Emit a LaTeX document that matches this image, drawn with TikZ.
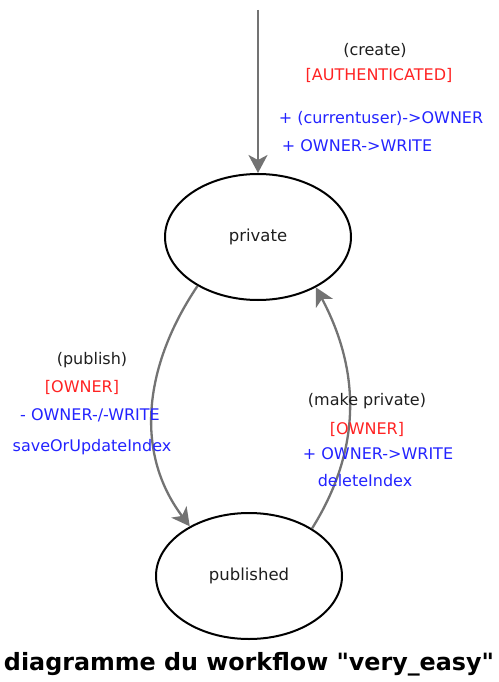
\documentclass[tikz,border=0pt]{standalone}
\usepackage{fontspec}
\usetikzlibrary{arrows.meta,shapes.geometric}
\newfontfamily\lbl{DejaVu Sans}
\newfontfamily\ttl{DejaVu Sans}
\definecolor{lblred}{RGB}{255,35,35}
\definecolor{lblblue}{RGB}{35,35,255}
\definecolor{lbldark}{RGB}{30,30,30}
\definecolor{arrgray}{RGB}{115,115,115}
\begin{document}
\begin{tikzpicture}[x=1pt,y=1pt,
  state/.style={ellipse, draw=black, line width=2pt, minimum width=186pt, minimum height=126pt, font=\lbl\fontsize{16.5}{19}\selectfont, text=lbldark, inner sep=0pt},
  trans/.style={draw=arrgray, line width=2.3pt, -{Stealth[length=18pt,width=19pt,inset=5pt]}},
  lab/.style={font=\lbl\fontsize{16}{19}\selectfont, inner sep=0pt, text height=11.5pt, text depth=3.5pt},
  evt/.style={lab, text=lbldark},
  grd/.style={lab, text=lblred},
  act/.style={lab, text=lblblue}
]
\useasboundingbox (0,0) rectangle (498,-682);
\node[state] (private) at (258,-237) {private};
\node[state] (published) at (249,-576) {published};
\coordinate (start) at (258,-10);
\draw[trans] (start) -- (private.north);
\draw[trans] (private.219) to[out=236,in=127] (published.140);
\draw[trans] (published.37) to[out=58,in=298] (private.319);
% create labels
\node[evt] (c1) at (375,-52) {(create)};
\node[grd] (c2) at (379,-77) {[AUTHENTICATED]};
\node[act] (c3) at (381,-120) {+ (currentuser)->OWNER};
\node[act] (c4) at (357,-147) {+ OWNER->WRITE};
% publish labels
\node[evt] (p1) at (92,-360) {(publish)};
\node[grd] (p2) at (82,-388) {[OWNER]};
\node[act] (p3) at (90,-416) {- OWNER-/-WRITE};
\node[act] (p4) at (92,-447) {saveOrUpdateIndex};
% make private labels
\node[evt] (m1) at (367,-401) {(make private)};
\node[grd] (m2) at (367,-430) {[OWNER]};
\node[act] (m3) at (378,-455) {+ OWNER->WRITE};
\node[act] (m4) at (365,-482) {deleteIndex};
% title
\node[font=\ttl\bfseries\fontsize{23.8}{28}\selectfont, inner sep=0pt] (title) at (249,-664) {diagramme du workflow "very\_easy"};
\end{tikzpicture}
\end{document}
